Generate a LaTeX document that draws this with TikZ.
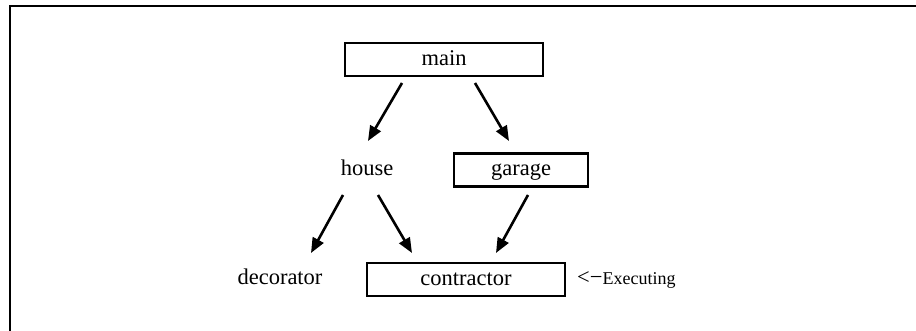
\documentclass[tikz,border=0pt]{standalone}
\usepackage{fontspec}
\setmainfont{Liberation Serif}
\usetikzlibrary{arrows.meta}
\begin{document}
\begin{tikzpicture}[x=1pt,y=-1pt,
  every node/.style={font=\fontsize{22.5}{27}\selectfont, inner sep=0pt, text height=13pt, text depth=1pt},
  boxnode/.style={draw, line width=2.5pt, minimum height=33pt},
  arr/.style={line width=2.6pt, -{Triangle[length=15pt,width=12pt]}}]
\useasboundingbox (0,0) rectangle (916,331);
\draw[line width=2.6pt] (916,6) -- (10,6) -- (10,331);
\node[boxnode, minimum width=198pt] (main) at (444,59.5) {main};
\node (house) at (367,169.5) {house};
\node[boxnode, minimum width=134pt] (garage) at (521,170) {garage};
\node (decorator) at (280,278.5) {decorator};
\node[boxnode, minimum width=198pt] (contractor) at (466,279.5) {contractor};
\node[anchor=west] (exec) at (577,278.5) {<−{\fontsize{18}{22}\selectfont Executing}};
\draw[arr] ([shift={(-42,23.5)}]main.center) -- ([shift={(1,-28.5)}]house.center);
\draw[arr] ([shift={(31,23.5)}]main.center) -- ([shift={(-12,-29)}]garage.center);
\draw[arr] ([shift={(-24,25.5)}]house.center) -- ([shift={(31,-25.5)}]decorator.center);
\draw[arr] ([shift={(11,25.5)}]house.center) -- ([shift={(-54,-26.5)}]contractor.center);
\draw[arr] ([shift={(7,25)}]garage.center) -- ([shift={(30,-26.5)}]contractor.center);
\end{tikzpicture}
\end{document}
